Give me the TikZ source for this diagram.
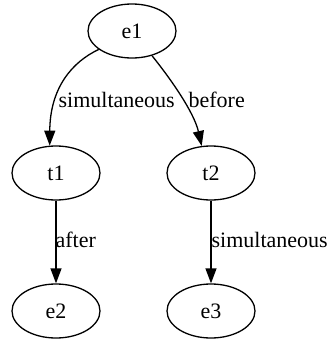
\documentclass[tikz,border=0pt]{standalone}
\usepackage{fontspec}
\setmainfont{Liberation Serif}
\usetikzlibrary{arrows.meta, shapes.geometric}

\begin{document}
\begin{tikzpicture}[x=1pt, y=-1pt, line width=1.3pt, >={Triangle[length=15pt, width=11pt]}]
    \tikzset{
        event/.style={draw, ellipse, minimum width=88pt, minimum height=54pt, inner sep=0pt, font=\fontsize{22}{26}\selectfont},
        rel/.style={inner sep=0pt, anchor=west, font=\fontsize{22}{26}\selectfont}
    }
    \useasboundingbox (0,0) rectangle (329,346);
    % Nodes
    \node[event] (e1) at (132,31) {e1};
    \node[event] (t1) at (56,173) {t1};
    \node[event] (t2) at (211,173) {t2};
    \node[event] (e2) at (56,311) {e2};
    \node[event] (e3) at (211,311) {e3};

    % Labels
    \node[rel] (l1) at (58,100) {simultaneous};
    \node[rel] (l2) at (188,100) {before};
    \node[rel] (l3) at (55,240) {after};
    \node[rel] (l4) at (211,240) {simultaneous};

    % Connections
    \draw[->] (e1.209) .. controls (72,62) and (50,88) .. (t1.103);
    \draw[->] (e1.-51) .. controls (170,78) and (194,112) .. (t2.109);
    \draw[->] (t1) -- (e2);
    \draw[->] (t2) -- (e3);
\end{tikzpicture}
\end{document}
